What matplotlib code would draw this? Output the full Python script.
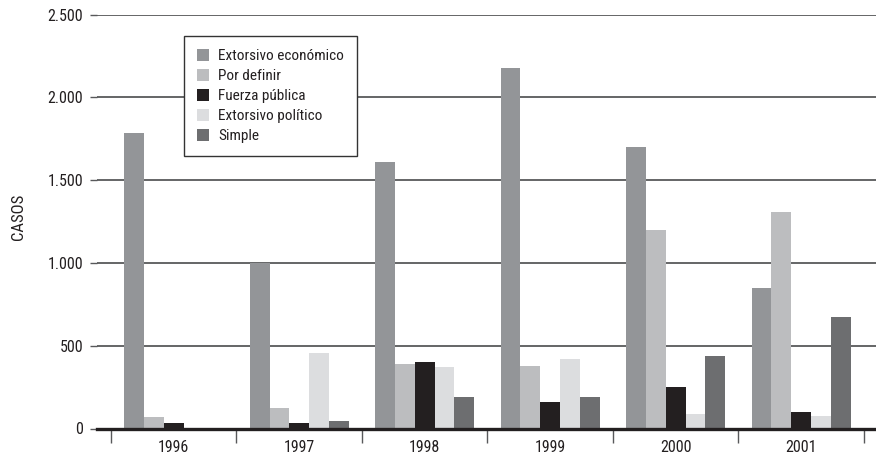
import matplotlib
matplotlib.use("Agg")
import matplotlib.pyplot as plt
import matplotlib.font_manager as fm
import numpy as np

years = ["1996", "1997", "1998", "1999", "2000", "2001"]
series_names = ["Extorsivo económico", "Por definir", "Fuerza pública",
                "Extorsivo político", "Simple"]
extorsivo_economico = [1787, 998, 1612, 2175, 1700, 848]
por_definir = [70, 123, 389, 377, 1202, 1310]
fuerza_publica = [33, 33, 400, 160, 250, 99]
extorsivo_politico = [0, 455, 370, 419, 87, 75]
simple = [0, 45, 190, 190, 437, 672]
colors = ["#939598", "#bcbdbf", "#231f20", "#dcdddf", "#6d6e70"]
yticks = [0, 500, 1000, 1500, 2000, 2500]
ytick_labels = ["0", "500", "1.000", "1.500", "2.000", "2.500"]

available = {f.name for f in fm.fontManager.ttflist}
prefs = ["Roboto Condensed", "Archivo Narrow", "PT Sans Narrow",
         "Liberation Sans Narrow", "Open Sans Condensed", "Liberation Sans"]
chosen = next((p for p in prefs if p in available), "DejaVu Sans")
plt.rcParams["font.family"] = [chosen, "DejaVu Sans"]
TICK_FS = 11.5
LEG_FS = 11
plt.rcParams["font.size"] = TICK_FS

fig = plt.figure(figsize=(8.76, 4.58), dpi=100)
ax = fig.add_axes([97/876, 1 - 428.5/458, 1 - 97/876, (428.5 - 14.7)/458])

data = [extorsivo_economico, por_definir, fuerza_publica, extorsivo_politico, simple]
x = np.arange(len(years))
w = 0.158
for i, (vals, c, name) in enumerate(zip(data, colors, series_names)):
    ax.bar(x + (i - 2) * w, vals, width=w, color=c, label=name, zorder=3, linewidth=0)

ax.set_ylim(0, 2500)
ax.set_xlim(-0.6116, 5.596)
ax.set_yticks(yticks)
ax.set_yticklabels(ytick_labels, color="#231f20", fontsize=TICK_FS)
ax.yaxis.grid(True, color="#58595b", linewidth=1.3, zorder=0)
ax.set_axisbelow(True)
for s in ["left", "right", "top"]:
    ax.spines[s].set_visible(False)
ax.spines["bottom"].set_color("#231f20")
ax.spines["bottom"].set_linewidth(2.4)
ax.spines["bottom"].set_zorder(4)
ax.tick_params(axis="y", length=5, width=1, color="#58595b", pad=5)

ax.set_xticks(np.arange(-0.5, len(years), 1.0))
ax.set_xticklabels([])
ax.set_xticks(x, minor=True)
ax.set_xticklabels(years, minor=True, color="#231f20", fontsize=TICK_FS)
ax.tick_params(axis="x", which="major", length=10, width=1, color="#58595b", direction="out")
ax.tick_params(axis="x", which="minor", length=0, pad=8)

fig.text(19/876, 1 - 217/458, "CASOS", rotation=90, ha="center", va="center",
         color="#231f20", fontsize=12)

leg = ax.legend(loc="upper left", bbox_to_anchor=(184/876, 1 - 36/458),
                bbox_transform=fig.transFigure, borderaxespad=0,
                fancybox=False, frameon=True, framealpha=1.0,
                handlelength=0.8, handleheight=0.8,
                handletextpad=0.6, labelspacing=0.38, borderpad=0.85,
                fontsize=LEG_FS)
leg.get_frame().set_edgecolor("#333333")
leg.get_frame().set_linewidth(1.0)
for t in leg.get_texts():
    t.set_color("#231f20")

fig.savefig("out.png", dpi=100)
